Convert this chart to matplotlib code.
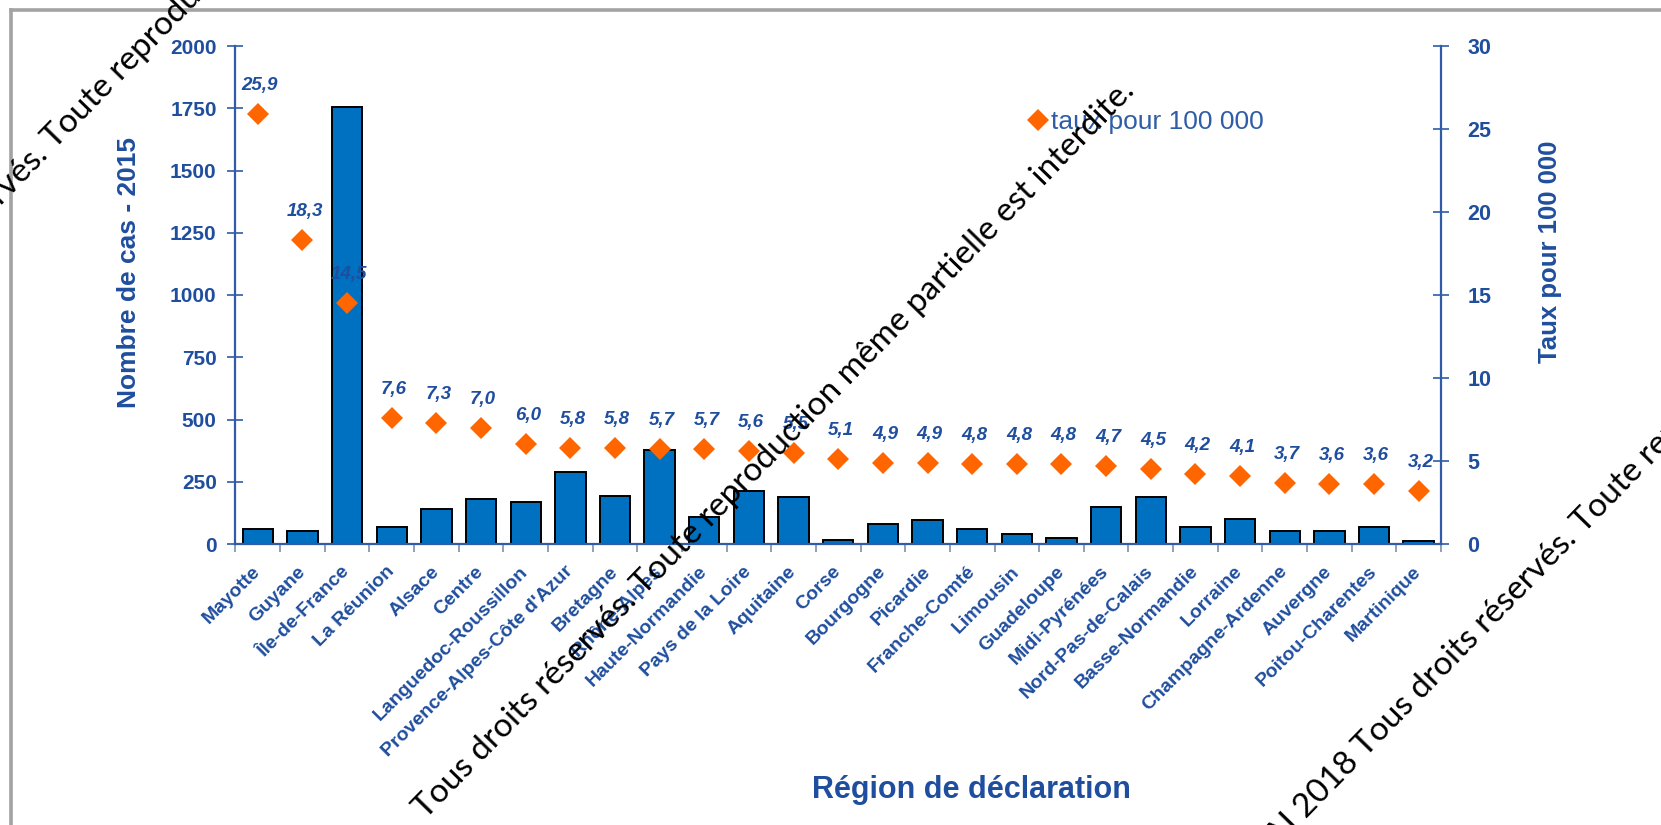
import matplotlib
matplotlib.use("Agg")
import matplotlib.pyplot as plt
from matplotlib.lines import Line2D
import numpy as np

# Regions of declaration, number of cases (2015) and rate per 100 000
regions = ["Mayotte", "Guyane", "Île-de-France", "La Réunion", "Alsace", "Centre",
           "Languedoc-Roussillon", "Provence-Alpes-Côte d'Azur", "Bretagne",
           "Rhône-Alpes", "Haute-Normandie", "Pays de la Loire", "Aquitaine", "Corse",
           "Bourgogne", "Picardie", "Franche-Comté", "Limousin", "Guadeloupe",
           "Midi-Pyrénées", "Nord-Pas-de-Calais", "Basse-Normandie", "Lorraine",
           "Champagne-Ardenne", "Auvergne", "Poitou-Charentes", "Martinique"]
cases = [62, 51, 1757, 67, 140, 180, 168, 291, 192, 376, 107, 213, 187, 17,
         80, 98, 61, 39, 24, 147, 187, 67, 100, 53, 53, 68, 13]
rates = [25.9, 18.3, 14.5, 7.6, 7.3, 7.0, 6.0, 5.8, 5.8, 5.7, 5.7, 5.6, 5.5, 5.1,
         4.9, 4.9, 4.8, 4.8, 4.8, 4.7, 4.5, 4.2, 4.1, 3.7, 3.6, 3.6, 3.2]
left_ticks = list(range(0, 2001, 250))
right_ticks = list(range(0, 31, 5))

W, H = 1661, 825
BAR = "#0070C0"
ORANGE = "#FF6600"
AXBLUE = "#2F5BA8"
TXTBLUE = "#1F4E9E"
FONT = "Liberation Sans"

plt.rcParams["font.family"] = [FONT, "DejaVu Sans"]

fig = plt.figure(figsize=(W / 100, H / 100), dpi=100)
fig.patch.set_facecolor("white")

x0, x1, ytop, ybot = 235.5, 1441, 46, 544
ax = fig.add_axes([x0 / W, 1 - ybot / H, (x1 - x0) / W, (ybot - ytop) / H])
ax2 = ax.twinx()

x = np.arange(len(regions))
ax.bar(x, cases, width=0.68, color=BAR, edgecolor="black", linewidth=1.4, zorder=2)
ax.set_xlim(-0.5, len(regions) - 0.5)
ax.set_ylim(0, 2000)
ax2.set_ylim(0, 30)

ax2.plot(x, rates, linestyle="none", marker="D", markersize=11, color=ORANGE,
         markeredgewidth=0, zorder=3, label="taux pour 100 000")
for xi, r in zip(x, rates):
    ax2.annotate(f"{r:.1f}".replace(".", ","), (xi, r), xytext=(1.5, 20.5),
                 textcoords="offset points", ha="center", va="center",
                 fontsize=13.5, fontweight="bold", fontstyle="italic",
                 color=TXTBLUE, zorder=4)

for a in (ax, ax2):
    for s in a.spines.values():
        s.set_visible(False)
ax.spines["left"].set_visible(True)
ax.spines["bottom"].set_visible(True)
ax2.spines["right"].set_visible(True)
for s in (ax.spines["left"], ax.spines["bottom"], ax2.spines["right"]):
    s.set_color(AXBLUE)
    s.set_linewidth(1.6)

ax.set_yticks(left_ticks)
ax.set_yticklabels([str(v) for v in left_ticks])
ax.tick_params(axis="y", direction="inout", length=11, width=1.2, color=AXBLUE,
               pad=8, labelsize=15, labelcolor=TXTBLUE)
ax2.set_yticks(right_ticks)
ax2.set_yticklabels([str(v) for v in right_ticks])
ax2.tick_params(axis="y", direction="inout", length=12, width=1.2, color=AXBLUE,
                pad=13, labelsize=15.5, labelcolor=TXTBLUE)
for lab in ax.get_yticklabels() + ax2.get_yticklabels():
    lab.set_fontweight("bold")

# boundaries carry the tick marks, centres carry the names
ax.set_xticks(np.arange(-0.5, len(regions), 1.0))
ax.set_xticklabels([])
ax.tick_params(axis="x", which="major", direction="out", length=6, width=1.2, color="#7f8fb0")
ax.set_xticks(x, minor=True)
ax.set_xticklabels(regions, minor=True, rotation=45, ha="right", va="center",
                   rotation_mode="anchor", fontsize=14, fontweight="bold", color=TXTBLUE)
ax.tick_params(axis="x", which="minor", length=0, pad=18)

ax.set_ylabel("Nombre de cas - 2015", fontsize=19, fontweight="bold", color=TXTBLUE,
              rotation=90, ha="center", va="center")
ax.yaxis.set_label_coords((129 - x0) / (x1 - x0), (ybot - 272) / (ybot - ytop))
ax2.set_ylabel("Taux pour 100 000", fontsize=18.5, fontweight="bold", color=TXTBLUE,
               rotation=90, ha="center", va="center")
ax2.yaxis.set_label_coords((1550 - x0) / (x1 - x0), (ybot - 252) / (ybot - ytop))
ax.set_xlabel("Région de déclaration", fontsize=22, fontweight="bold", color=TXTBLUE,
              ha="center", va="center")
ax.xaxis.set_label_coords((971 - x0) / (x1 - x0), (ybot - 790) / (ybot - ytop))

leg = ax2.legend(loc="center left", bbox_to_anchor=(1029 / W, 1 - 122 / H),
                 bbox_transform=fig.transFigure, frameon=False, handlelength=0.7,
                 handletextpad=0.15, borderpad=0, borderaxespad=0,
                 prop={"family": FONT, "size": 19})
for t in leg.get_texts():
    t.set_color("#2F5DA8")

# outer frame
frame_kw = dict(transform=fig.transFigure, color="#a3a3a3", linewidth=2.6)
fig.add_artist(Line2D([11 / W, 11 / W], [-0.01, 1 - 10 / H], **frame_kw))
fig.add_artist(Line2D([11 / W, 1.01], [1 - 10 / H, 1 - 10 / H], **frame_kw))

# copyright notice lines
notice = "Tous droits réservés. Toute reproduction même partielle est interdite."
wm_font = ["Lato", "DejaVu Sans"]
renderer = fig.canvas.get_renderer()
probe = fig.text(0, 0, notice, fontsize=20, family=wm_font)
w20 = probe.get_window_extent(renderer).width
probe.remove()
wm_size = 20 * 1022 / w20
wm_kw = dict(fontsize=wm_size, family=wm_font, color="black", rotation=45.7,
             rotation_mode="anchor", va="baseline", zorder=10)

def notice_line(px, py, before, after):
    fig.text(px / W, 1 - py / H, before, ha="right", **wm_kw)
    fig.text(px / W, 1 - py / H, after, ha="left", **wm_kw)

notice_line(1136, 92, notice, "")
notice_line(1366, 758, "AI 2018 ", notice)
notice_line(55, 150, "Tous droits réservés. ", "Toute reproduction même partielle est interdite.")

fig.savefig("out.png", dpi=100)
